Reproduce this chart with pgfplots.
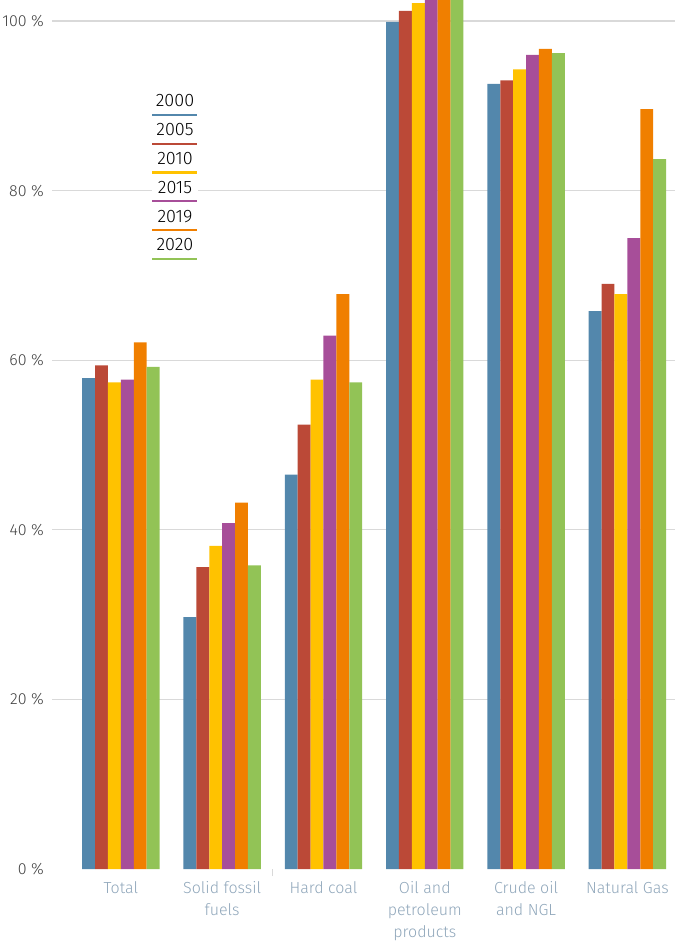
\documentclass[border=0pt]{standalone}
\usepackage{pgfplots}
\pgfplotsset{compat=1.18}
\usepackage{fontspec}
\setmainfont{Fira Sans Light}
\definecolor{c2000}{RGB}{83,135,172}
\definecolor{c2005}{RGB}{187,73,55}
\definecolor{c2010}{RGB}{255,194,0}
\definecolor{c2015}{RGB}{167,78,153}
\definecolor{c2019}{RGB}{240,127,0}
\definecolor{c2020}{RGB}{146,195,86}
\definecolor{gridc}{RGB}{217,217,217}
\definecolor{xlab}{RGB}{143,166,186}
\definecolor{ylab}{RGB}{64,64,64}
\begin{document}
\begin{tikzpicture}
\begin{axis}[
  at={(0pt,0pt)}, anchor=south west,
  scale only axis, width=623pt, height=869pt,
  xmin=-0.68, xmax=5.47, ymin=0, ymax=102.48,
  ybar=0pt, bar width=12.9pt,
  axis line style={draw=none},
  major tick length=0pt,
  ytick={20,40,60,80,100},
  yticklabels={20 \%,40 \%,60 \%,80 \%,100 \%},
  extra y ticks={0}, extra y tick labels={0 \%},
  extra y tick style={grid=none},
  ymajorgrids, grid style={gridc, line width=1.2pt},
  xtick={0,1,2,3,4,5},
  xticklabels={Total, Solid fossil\\fuels, Hard coal, Oil and\\petroleum\\products, Crude oil\\and NGL, Natural Gas},
  xticklabel style={align=center, font=\fontsize{16}{22}\selectfont, text=xlab, anchor=north, inner sep=0pt, yshift=-12pt},
  yticklabel style={font=\fontsize{16}{19}\selectfont, text=ylab, anchor=east, inner sep=0pt, xshift=-8pt},
  extra x ticks={1.5}, extra x tick labels={},
  extra x tick style={major tick length=7pt, tick align=outside, tick style={gridc, line width=1pt}},
]
\addplot[fill=c2000, draw=none] coordinates {(0,57.9) (1,29.7) (2,46.5) (3,99.9) (4,92.6) (5,65.8)};
\addplot[fill=c2005, draw=none] coordinates {(0,59.4) (1,35.6) (2,52.4) (3,101.2) (4,93.0) (5,69.0)};
\addplot[fill=c2010, draw=none] coordinates {(0,57.4) (1,38.1) (2,57.7) (3,102.1) (4,94.3) (5,67.8)};
\addplot[fill=c2015, draw=none] coordinates {(0,57.7) (1,40.8) (2,62.9) (3,104.0) (4,96.0) (5,74.4)};
\addplot[fill=c2019, draw=none] coordinates {(0,62.1) (1,43.2) (2,67.8) (3,105.0) (4,96.7) (5,89.6)};
\addplot[fill=c2020, draw=none] coordinates {(0,59.2) (1,35.8) (2,57.4) (3,104.5) (4,96.2) (5,83.7)};
\end{axis}
\foreach \yr/\c [count=\i from 0] in {2000/c2000,2005/c2005,2010/c2010,2015/c2015,2019/c2019,2020/c2020}{
  \node[fill=white, inner sep=1pt, minimum width=46pt, text=black, font=\fontsize{18}{18}\selectfont] at ({123pt},{768pt-\i*28.8pt}) {\yr};
  \fill[\c] ({100pt},{753pt-\i*28.8pt}) rectangle ({145pt},{755.2pt-\i*28.8pt});
}
\pgfresetboundingbox
\path (-52pt,-72pt) rectangle (623pt,869pt);
\end{tikzpicture}
\end{document}
